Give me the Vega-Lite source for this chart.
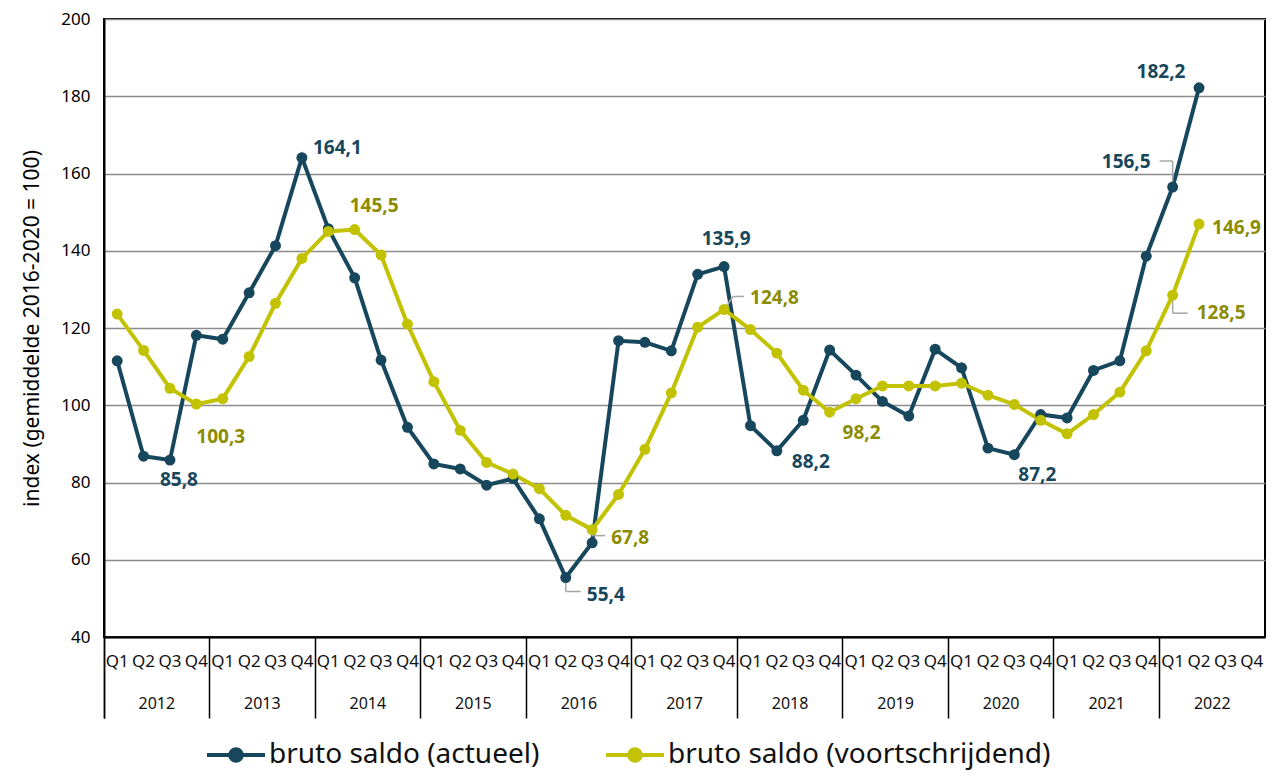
{
  "$schema": "https://vega.github.io/schema/vega-lite/v6.json",
  "width": 1161,
  "height": 618,
  "autosize": {"type": "none"},
  "padding": {"left": 104, "top": 19, "right": 9, "bottom": 139},
  "config": {
    "font": "Noto Sans",
    "view": {"stroke": "#000", "strokeWidth": 2}
  },
  "datasets": {
    "main": [
      {"period": "2012 Q1", "year": "2012", "series": "bruto saldo (actueel)", "value": 111.5},
      {"period": "2012 Q2", "year": "2012", "series": "bruto saldo (actueel)", "value": 86.8},
      {"period": "2012 Q3", "year": "2012", "series": "bruto saldo (actueel)", "value": 85.8},
      {"period": "2012 Q4", "year": "2012", "series": "bruto saldo (actueel)", "value": 118.1},
      {"period": "2013 Q1", "year": "2013", "series": "bruto saldo (actueel)", "value": 117.1},
      {"period": "2013 Q2", "year": "2013", "series": "bruto saldo (actueel)", "value": 129.1},
      {"period": "2013 Q3", "year": "2013", "series": "bruto saldo (actueel)", "value": 141.3},
      {"period": "2013 Q4", "year": "2013", "series": "bruto saldo (actueel)", "value": 164.1},
      {"period": "2014 Q1", "year": "2014", "series": "bruto saldo (actueel)", "value": 145.7},
      {"period": "2014 Q2", "year": "2014", "series": "bruto saldo (actueel)", "value": 133.0},
      {"period": "2014 Q3", "year": "2014", "series": "bruto saldo (actueel)", "value": 111.7},
      {"period": "2014 Q4", "year": "2014", "series": "bruto saldo (actueel)", "value": 94.3},
      {"period": "2015 Q1", "year": "2015", "series": "bruto saldo (actueel)", "value": 84.8},
      {"period": "2015 Q2", "year": "2015", "series": "bruto saldo (actueel)", "value": 83.5},
      {"period": "2015 Q3", "year": "2015", "series": "bruto saldo (actueel)", "value": 79.3},
      {"period": "2015 Q4", "year": "2015", "series": "bruto saldo (actueel)", "value": 81.0},
      {"period": "2016 Q1", "year": "2016", "series": "bruto saldo (actueel)", "value": 70.6},
      {"period": "2016 Q2", "year": "2016", "series": "bruto saldo (actueel)", "value": 55.4},
      {"period": "2016 Q3", "year": "2016", "series": "bruto saldo (actueel)", "value": 64.4},
      {"period": "2016 Q4", "year": "2016", "series": "bruto saldo (actueel)", "value": 116.7},
      {"period": "2017 Q1", "year": "2017", "series": "bruto saldo (actueel)", "value": 116.3},
      {"period": "2017 Q2", "year": "2017", "series": "bruto saldo (actueel)", "value": 114.1},
      {"period": "2017 Q3", "year": "2017", "series": "bruto saldo (actueel)", "value": 133.9},
      {"period": "2017 Q4", "year": "2017", "series": "bruto saldo (actueel)", "value": 135.9},
      {"period": "2018 Q1", "year": "2018", "series": "bruto saldo (actueel)", "value": 94.7},
      {"period": "2018 Q2", "year": "2018", "series": "bruto saldo (actueel)", "value": 88.2},
      {"period": "2018 Q3", "year": "2018", "series": "bruto saldo (actueel)", "value": 96.1},
      {"period": "2018 Q4", "year": "2018", "series": "bruto saldo (actueel)", "value": 114.3},
      {"period": "2019 Q1", "year": "2019", "series": "bruto saldo (actueel)", "value": 107.8},
      {"period": "2019 Q2", "year": "2019", "series": "bruto saldo (actueel)", "value": 101.0},
      {"period": "2019 Q3", "year": "2019", "series": "bruto saldo (actueel)", "value": 97.2},
      {"period": "2019 Q4", "year": "2019", "series": "bruto saldo (actueel)", "value": 114.5},
      {"period": "2020 Q1", "year": "2020", "series": "bruto saldo (actueel)", "value": 109.7},
      {"period": "2020 Q2", "year": "2020", "series": "bruto saldo (actueel)", "value": 88.9},
      {"period": "2020 Q3", "year": "2020", "series": "bruto saldo (actueel)", "value": 87.2},
      {"period": "2020 Q4", "year": "2020", "series": "bruto saldo (actueel)", "value": 97.6},
      {"period": "2021 Q1", "year": "2021", "series": "bruto saldo (actueel)", "value": 96.7},
      {"period": "2021 Q2", "year": "2021", "series": "bruto saldo (actueel)", "value": 109.0},
      {"period": "2021 Q3", "year": "2021", "series": "bruto saldo (actueel)", "value": 111.5},
      {"period": "2021 Q4", "year": "2021", "series": "bruto saldo (actueel)", "value": 138.6},
      {"period": "2022 Q1", "year": "2022", "series": "bruto saldo (actueel)", "value": 156.5},
      {"period": "2022 Q2", "year": "2022", "series": "bruto saldo (actueel)", "value": 182.2},
      {"period": "2012 Q1", "year": "2012", "series": "bruto saldo (voortschrijdend)", "value": 123.6},
      {"period": "2012 Q2", "year": "2012", "series": "bruto saldo (voortschrijdend)", "value": 114.2},
      {"period": "2012 Q3", "year": "2012", "series": "bruto saldo (voortschrijdend)", "value": 104.4},
      {"period": "2012 Q4", "year": "2012", "series": "bruto saldo (voortschrijdend)", "value": 100.3},
      {"period": "2013 Q1", "year": "2013", "series": "bruto saldo (voortschrijdend)", "value": 101.7},
      {"period": "2013 Q2", "year": "2013", "series": "bruto saldo (voortschrijdend)", "value": 112.6},
      {"period": "2013 Q3", "year": "2013", "series": "bruto saldo (voortschrijdend)", "value": 126.4},
      {"period": "2013 Q4", "year": "2013", "series": "bruto saldo (voortschrijdend)", "value": 138.0},
      {"period": "2014 Q1", "year": "2014", "series": "bruto saldo (voortschrijdend)", "value": 145.0},
      {"period": "2014 Q2", "year": "2014", "series": "bruto saldo (voortschrijdend)", "value": 145.5},
      {"period": "2014 Q3", "year": "2014", "series": "bruto saldo (voortschrijdend)", "value": 138.9},
      {"period": "2014 Q4", "year": "2014", "series": "bruto saldo (voortschrijdend)", "value": 121.0},
      {"period": "2015 Q1", "year": "2015", "series": "bruto saldo (voortschrijdend)", "value": 106.1},
      {"period": "2015 Q2", "year": "2015", "series": "bruto saldo (voortschrijdend)", "value": 93.5},
      {"period": "2015 Q3", "year": "2015", "series": "bruto saldo (voortschrijdend)", "value": 85.2},
      {"period": "2015 Q4", "year": "2015", "series": "bruto saldo (voortschrijdend)", "value": 82.2},
      {"period": "2016 Q1", "year": "2016", "series": "bruto saldo (voortschrijdend)", "value": 78.4},
      {"period": "2016 Q2", "year": "2016", "series": "bruto saldo (voortschrijdend)", "value": 71.5},
      {"period": "2016 Q3", "year": "2016", "series": "bruto saldo (voortschrijdend)", "value": 67.8},
      {"period": "2016 Q4", "year": "2016", "series": "bruto saldo (voortschrijdend)", "value": 76.9},
      {"period": "2017 Q1", "year": "2017", "series": "bruto saldo (voortschrijdend)", "value": 88.6},
      {"period": "2017 Q2", "year": "2017", "series": "bruto saldo (voortschrijdend)", "value": 103.2},
      {"period": "2017 Q3", "year": "2017", "series": "bruto saldo (voortschrijdend)", "value": 120.2},
      {"period": "2017 Q4", "year": "2017", "series": "bruto saldo (voortschrijdend)", "value": 124.8},
      {"period": "2018 Q1", "year": "2018", "series": "bruto saldo (voortschrijdend)", "value": 119.6},
      {"period": "2018 Q2", "year": "2018", "series": "bruto saldo (voortschrijdend)", "value": 113.5},
      {"period": "2018 Q3", "year": "2018", "series": "bruto saldo (voortschrijdend)", "value": 103.9},
      {"period": "2018 Q4", "year": "2018", "series": "bruto saldo (voortschrijdend)", "value": 98.2},
      {"period": "2019 Q1", "year": "2019", "series": "bruto saldo (voortschrijdend)", "value": 101.7},
      {"period": "2019 Q2", "year": "2019", "series": "bruto saldo (voortschrijdend)", "value": 105.0},
      {"period": "2019 Q3", "year": "2019", "series": "bruto saldo (voortschrijdend)", "value": 105.0},
      {"period": "2019 Q4", "year": "2019", "series": "bruto saldo (voortschrijdend)", "value": 105.0},
      {"period": "2020 Q1", "year": "2020", "series": "bruto saldo (voortschrijdend)", "value": 105.7},
      {"period": "2020 Q2", "year": "2020", "series": "bruto saldo (voortschrijdend)", "value": 102.6},
      {"period": "2020 Q3", "year": "2020", "series": "bruto saldo (voortschrijdend)", "value": 100.2},
      {"period": "2020 Q4", "year": "2020", "series": "bruto saldo (voortschrijdend)", "value": 96.1},
      {"period": "2021 Q1", "year": "2021", "series": "bruto saldo (voortschrijdend)", "value": 92.6},
      {"period": "2021 Q2", "year": "2021", "series": "bruto saldo (voortschrijdend)", "value": 97.6},
      {"period": "2021 Q3", "year": "2021", "series": "bruto saldo (voortschrijdend)", "value": 103.4},
      {"period": "2021 Q4", "year": "2021", "series": "bruto saldo (voortschrijdend)", "value": 114.1},
      {"period": "2022 Q1", "year": "2022", "series": "bruto saldo (voortschrijdend)", "value": 128.5},
      {"period": "2022 Q2", "year": "2022", "series": "bruto saldo (voortschrijdend)", "value": 146.9}
    ]
  },
  "data": {"name": "main"},
  "transform": [
    {"calculate": "replace(format(datum.value, '.1f'), '.', ',')", "as": "label"}
  ],
  "layer": [
    {
      "mark": {"type": "rule", "strokeOpacity": 0},
      "encoding": {
        "x": {
          "field": "year",
          "type": "ordinal",
          "scale": {"type": "band", "paddingInner": 0, "paddingOuter": 0},
          "axis": {
            "orient": "bottom",
            "title": null,
            "domain": false,
            "bandPosition": 0,
            "tickExtra": true,
            "tickSize": 81,
            "tickColor": "#000",
            "tickWidth": 1.5,
            "labelAngle": 0,
            "labelFontSize": 16,
            "labelColor": "#111",
            "labelPadding": -23,
            "grid": false
          }
        }
      }
    },
    {
      "encoding": {
        "x": {
          "field": "period",
          "type": "ordinal",
          "scale": {
            "domain": ["2012 Q1","2012 Q2","2012 Q3","2012 Q4","2013 Q1","2013 Q2","2013 Q3","2013 Q4","2014 Q1","2014 Q2","2014 Q3","2014 Q4","2015 Q1","2015 Q2","2015 Q3","2015 Q4","2016 Q1","2016 Q2","2016 Q3","2016 Q4","2017 Q1","2017 Q2","2017 Q3","2017 Q4","2018 Q1","2018 Q2","2018 Q3","2018 Q4","2019 Q1","2019 Q2","2019 Q3","2019 Q4","2020 Q1","2020 Q2","2020 Q3","2020 Q4","2021 Q1","2021 Q2","2021 Q3","2021 Q4","2022 Q1","2022 Q2","2022 Q3","2022 Q4"]
          },
          "axis": {
            "orient": "bottom",
            "title": null,
            "labelExpr": "slice(datum.value, 5)",
            "labelAngle": 0,
            "labelFontSize": 17,
            "labelColor": "#111",
            "labelPadding": 16,
            "ticks": false,
            "domain": true,
            "domainColor": "#000",
            "domainWidth": 2,
            "grid": false
          }
        },
        "y": {
          "field": "value",
          "type": "quantitative",
          "scale": {"domain": [40, 200], "nice": false, "zero": false},
          "axis": {
            "title": "index (gemiddelde 2016-2020 = 100)",
            "titleFontSize": 21,
            "titleFontWeight": "normal",
            "titleColor": "#000",
            "titlePadding": 18,
            "values": [40, 60, 80, 100, 120, 140, 160, 180, 200],
            "labelFontSize": 17,
            "labelColor": "#000",
            "labelPadding": 14,
            "ticks": false,
            "domainColor": "#000",
            "domainWidth": 2,
            "grid": true,
            "gridColor": "#8c8c8c",
            "gridWidth": 1.5
          }
        }
      },
      "layer": [
        {
          "mark": {"type": "line", "strokeWidth": 4},
          "encoding": {
            "color": {
              "field": "series",
              "type": "nominal",
              "scale": {
                "domain": ["bruto saldo (actueel)", "bruto saldo (voortschrijdend)"],
                "range": ["#17475c", "#c2c200"]
              },
              "legend": {
                "orient": "none",
                "legendX": 101,
                "legendY": 705,
                "direction": "horizontal",
                "title": null,
                "labelFontSize": 28,
                "labelColor": "#111",
                "labelLimit": 700,
                "labelOffset": 2,
                "columnPadding": 58,
                "symbolType": "M-1,0H1M0.2,0A0.2,0.2,0,1,1,-0.2,0A0.2,0.2,0,1,1,0.2,0Z",
                "symbolSize": 3364,
                "symbolStrokeWidth": 4,
                "encode": {
                  "symbols": {
                    "update": {
                      "fill": {"scale": "color", "field": "value"},
                      "fillOpacity": {"value": 1}
                    }
                  }
                }
              }
            }
          }
        },
        {
          "transform": [{"filter": "datum.series == 'bruto saldo (actueel)' && datum.period == '2016 Q2'"}],
          "mark": {"type": "rule", "color": "#a6a6a6", "strokeWidth": 1.5, "y2Offset": 14},
          "encoding": {"y2": {"field": "value"}}
        },
        {
          "transform": [{"filter": "datum.series == 'bruto saldo (actueel)' && datum.period == '2016 Q2'"}],
          "mark": {"type": "rule", "color": "#a6a6a6", "strokeWidth": 1.5, "yOffset": 14, "x2Offset": 15},
          "encoding": {"x2": {"field": "period"}}
        },
        {
          "transform": [{"filter": "datum.series == 'bruto saldo (voortschrijdend)' && datum.period == '2016 Q3'"}],
          "mark": {"type": "rule", "color": "#a6a6a6", "strokeWidth": 1.5, "y2Offset": 6},
          "encoding": {"y2": {"field": "value"}}
        },
        {
          "transform": [{"filter": "datum.series == 'bruto saldo (voortschrijdend)' && datum.period == '2016 Q3'"}],
          "mark": {"type": "rule", "color": "#a6a6a6", "strokeWidth": 1.5, "yOffset": 6, "x2Offset": 13},
          "encoding": {"x2": {"field": "period"}}
        },
        {
          "transform": [{"filter": "datum.series == 'bruto saldo (voortschrijdend)' && datum.period == '2017 Q4'"}],
          "mark": {"type": "rule", "color": "#a6a6a6", "strokeWidth": 1.5, "x2Offset": 9, "y2Offset": -13},
          "encoding": {"x2": {"field": "period"}, "y2": {"field": "value"}}
        },
        {
          "transform": [{"filter": "datum.series == 'bruto saldo (voortschrijdend)' && datum.period == '2017 Q4'"}],
          "mark": {"type": "rule", "color": "#a6a6a6", "strokeWidth": 1.5, "xOffset": 9, "x2Offset": 20, "yOffset": -13},
          "encoding": {"x2": {"field": "period"}}
        },
        {
          "transform": [{"filter": "datum.series == 'bruto saldo (actueel)' && datum.period == '2022 Q1'"}],
          "mark": {"type": "rule", "color": "#a6a6a6", "strokeWidth": 1.5, "y2Offset": -26},
          "encoding": {"y2": {"field": "value"}}
        },
        {
          "transform": [{"filter": "datum.series == 'bruto saldo (actueel)' && datum.period == '2022 Q1'"}],
          "mark": {"type": "rule", "color": "#a6a6a6", "strokeWidth": 1.5, "yOffset": -26, "x2Offset": -13},
          "encoding": {"x2": {"field": "period"}}
        },
        {
          "transform": [{"filter": "datum.series == 'bruto saldo (voortschrijdend)' && datum.period == '2022 Q1'"}],
          "mark": {"type": "rule", "color": "#a6a6a6", "strokeWidth": 1.5, "y2Offset": 18},
          "encoding": {"y2": {"field": "value"}}
        },
        {
          "transform": [{"filter": "datum.series == 'bruto saldo (voortschrijdend)' && datum.period == '2022 Q1'"}],
          "mark": {"type": "rule", "color": "#a6a6a6", "strokeWidth": 1.5, "yOffset": 18, "x2Offset": 15},
          "encoding": {"x2": {"field": "period"}}
        },
        {
          "mark": {"type": "point", "filled": true, "size": 120, "opacity": 1},
          "encoding": {
            "color": {"field": "series", "type": "nominal"}
          }
        },
        {
          "transform": [{"filter": "datum.series == 'bruto saldo (actueel)' && (datum.period == '2012 Q3')"}],
          "mark": {"type": "text", "fontSize": 19, "fontWeight": "bold", "color": "#17475c", "align": "center", "baseline": "middle", "dx": 9, "dy": 20},
          "encoding": {"text": {"field": "label"}}
        },
        {
          "transform": [{"filter": "datum.series == 'bruto saldo (actueel)' && (datum.period == '2013 Q4')"}],
          "mark": {"type": "text", "fontSize": 19, "fontWeight": "bold", "color": "#17475c", "align": "left", "baseline": "middle", "dx": 11, "dy": -10},
          "encoding": {"text": {"field": "label"}}
        },
        {
          "transform": [{"filter": "datum.series == 'bruto saldo (actueel)' && (datum.period == '2016 Q2')"}],
          "mark": {"type": "text", "fontSize": 19, "fontWeight": "bold", "color": "#17475c", "align": "left", "baseline": "middle", "dx": 21, "dy": 17},
          "encoding": {"text": {"field": "label"}}
        },
        {
          "transform": [{"filter": "datum.series == 'bruto saldo (actueel)' && (datum.period == '2017 Q4')"}],
          "mark": {"type": "text", "fontSize": 19, "fontWeight": "bold", "color": "#17475c", "align": "center", "baseline": "middle", "dx": 2, "dy": -28},
          "encoding": {"text": {"field": "label"}}
        },
        {
          "transform": [{"filter": "datum.series == 'bruto saldo (actueel)' && (datum.period == '2018 Q2')"}],
          "mark": {"type": "text", "fontSize": 19, "fontWeight": "bold", "color": "#17475c", "align": "left", "baseline": "middle", "dx": 15, "dy": 11},
          "encoding": {"text": {"field": "label"}}
        },
        {
          "transform": [{"filter": "datum.series == 'bruto saldo (actueel)' && (datum.period == '2020 Q3')"}],
          "mark": {"type": "text", "fontSize": 19, "fontWeight": "bold", "color": "#17475c", "align": "center", "baseline": "middle", "dx": 23, "dy": 20},
          "encoding": {"text": {"field": "label"}}
        },
        {
          "transform": [{"filter": "datum.series == 'bruto saldo (actueel)' && (datum.period == '2022 Q1')"}],
          "mark": {"type": "text", "fontSize": 19, "fontWeight": "bold", "color": "#17475c", "align": "right", "baseline": "middle", "dx": -22, "dy": -25},
          "encoding": {"text": {"field": "label"}}
        },
        {
          "transform": [{"filter": "datum.series == 'bruto saldo (actueel)' && (datum.period == '2022 Q2')"}],
          "mark": {"type": "text", "fontSize": 19, "fontWeight": "bold", "color": "#17475c", "align": "center", "baseline": "middle", "dx": -38, "dy": -16},
          "encoding": {"text": {"field": "label"}}
        },
        {
          "transform": [{"filter": "datum.series == 'bruto saldo (voortschrijdend)' && (datum.period == '2012 Q4')"}],
          "mark": {"type": "text", "fontSize": 19, "fontWeight": "bold", "color": "#8c8c00", "align": "left", "baseline": "middle", "dx": 0, "dy": 33},
          "encoding": {"text": {"field": "label"}}
        },
        {
          "transform": [{"filter": "datum.series == 'bruto saldo (voortschrijdend)' && (datum.period == '2014 Q2')"}],
          "mark": {"type": "text", "fontSize": 19, "fontWeight": "bold", "color": "#8c8c00", "align": "left", "baseline": "middle", "dx": -5, "dy": -24},
          "encoding": {"text": {"field": "label"}}
        },
        {
          "transform": [{"filter": "datum.series == 'bruto saldo (voortschrijdend)' && (datum.period == '2016 Q3')"}],
          "mark": {"type": "text", "fontSize": 19, "fontWeight": "bold", "color": "#8c8c00", "align": "left", "baseline": "middle", "dx": 19, "dy": 8},
          "encoding": {"text": {"field": "label"}}
        },
        {
          "transform": [{"filter": "datum.series == 'bruto saldo (voortschrijdend)' && (datum.period == '2017 Q4')"}],
          "mark": {"type": "text", "fontSize": 19, "fontWeight": "bold", "color": "#8c8c00", "align": "left", "baseline": "middle", "dx": 26, "dy": -11},
          "encoding": {"text": {"field": "label"}}
        },
        {
          "transform": [{"filter": "datum.series == 'bruto saldo (voortschrijdend)' && (datum.period == '2018 Q4')"}],
          "mark": {"type": "text", "fontSize": 19, "fontWeight": "bold", "color": "#8c8c00", "align": "center", "baseline": "middle", "dx": 32, "dy": 21},
          "encoding": {"text": {"field": "label"}}
        },
        {
          "transform": [{"filter": "datum.series == 'bruto saldo (voortschrijdend)' && (datum.period == '2022 Q1')"}],
          "mark": {"type": "text", "fontSize": 19, "fontWeight": "bold", "color": "#8c8c00", "align": "left", "baseline": "middle", "dx": 24, "dy": 18},
          "encoding": {"text": {"field": "label"}}
        },
        {
          "transform": [{"filter": "datum.series == 'bruto saldo (voortschrijdend)' && (datum.period == '2022 Q2')"}],
          "mark": {"type": "text", "fontSize": 19, "fontWeight": "bold", "color": "#8c8c00", "align": "left", "baseline": "middle", "dx": 13, "dy": 4},
          "encoding": {"text": {"field": "label"}}
        }
      ]
    }
  ],
  "resolve": {"scale": {"x": "independent"}, "axis": {"x": "independent"}}
}
